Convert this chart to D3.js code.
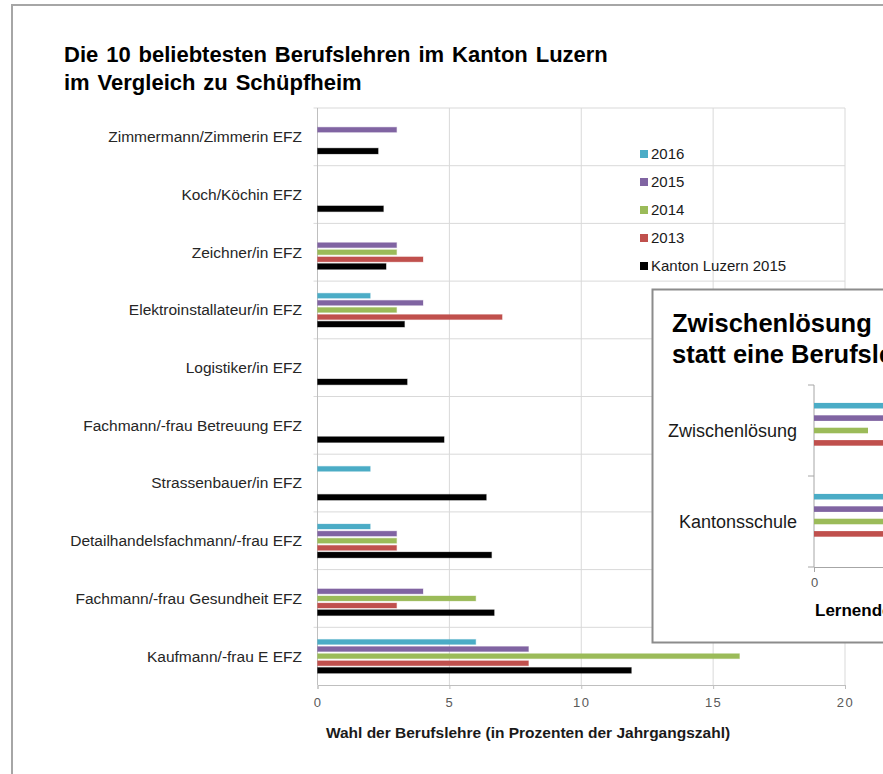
<!DOCTYPE html>
<html>
<head>
<meta charset="utf-8">
<script src="https://cdn.jsdelivr.net/npm/d3@7"></script>
<style>
  body { margin: 0; background: #fff; }
  svg { display: block; font-family: "Liberation Sans", Arial, sans-serif; }
</style>
</head>
<body>
<svg id="chart" width="883" height="774"></svg>
<script>
// categories, top to bottom
var berufe = [
  "Zimmermann/Zimmerin EFZ",
  "Koch/Köchin EFZ",
  "Zeichner/in EFZ",
  "Elektroinstallateur/in EFZ",
  "Logistiker/in EFZ",
  "Fachmann/-frau Betreuung EFZ",
  "Strassenbauer/in EFZ",
  "Detailhandelsfachmann/-frau EFZ",
  "Fachmann/-frau Gesundheit EFZ",
  "Kaufmann/-frau E EFZ"
];
var serien = ["2016", "2015", "2014", "2013", "Kanton Luzern 2015"];
var farben = ["#4bacc6", "#8064a2", "#9bbb59", "#c0504d", "#000000"];

// values in % (null = no bar)
var werte2016 = [null, null, null, 2, null, null, 2, 2, null, 6];
var werte2015 = [3, null, 3, 4, null, null, null, 3, 4, 8];
var werte2014 = [null, null, 3, 3, null, null, null, 3, 6, 16];
var werte2013 = [null, null, 4, 7, null, null, null, 3, 3, 8];
var werteKanton = [2.3, 2.5, 2.6, 3.3, 3.4, 4.8, 6.4, 6.6, 6.7, 11.9];
var xTicks = [0, 5, 10, 15, 20];

// inset chart (cut off at the right edge)
var insetKat = ["Zwischenlösung", "Kantonsschule"];
var inset2016 = [5, 6];
var inset2015 = [4.5, 5.5];
var inset2014 = [1.8, 4.5];
var inset2013 = [6, 7];
var insetTicks = [0];

var svg = d3.select("#chart");

// outer frame
svg.append("rect")
   .attr("x", 12).attr("y", 5)
   .attr("width", 900).attr("height", 800)
   .attr("fill", "#fff")
   .attr("stroke", "#a6a6a6")
   .attr("stroke-width", 2);

// title
var title = svg.append("text")
   .attr("x", 64).attr("y", 62)
   .attr("font-size", "22px")
   .attr("font-weight", "bold")
   .attr("fill", "#000");
title.append("tspan").attr("x", 64).attr("y", 62).attr("word-spacing", "1.8px")
     .text("Die 10 beliebtesten Berufslehren im Kanton Luzern");
title.append("tspan").attr("x", 64).attr("y", 90).attr("word-spacing", "1.8px")
     .text("im Vergleich zu Schüpfheim");

function drawMain(){
  var left = 317.5, right = 845, top = 108, bottom = 685;

  var x = d3.scaleLinear().domain([0, 20]).range([left, right]);
  var y = d3.scaleBand().domain(berufe).range([top, bottom]);
  var ys = d3.scaleBand().domain(serien)
    .range([0, y.bandwidth()])
    .paddingInner(0.3).paddingOuter(1.71);

  var g = svg.append("g");

  // vertical gridlines
  g.selectAll(".vgrid")
   .data(xTicks.slice(1))
   .enter().append("line")
   .attr("x1", d => x(d)).attr("x2", d => x(d))
   .attr("y1", top).attr("y2", bottom)
   .attr("stroke", "#d9d9d9");

  // horizontal separators between categories (+ top border)
  var seps = berufe.map(b => y(b));
  g.selectAll(".hgrid")
   .data(seps)
   .enter().append("line")
   .attr("x1", left - 4).attr("x2", right)
   .attr("y1", d => d).attr("y2", d => d)
   .attr("stroke", "#d9d9d9");

  // y axis line
  g.append("line")
   .attr("x1", left).attr("x2", left)
   .attr("y1", top).attr("y2", bottom)
   .attr("stroke", "#bfbfbf");

  // x axis
  var xAxis = g.append("g")
   .attr("transform", "translate(0," + bottom + ")")
   .call(d3.axisBottom(x).tickValues(xTicks).tickSize(4).tickPadding(9));
  xAxis.select(".domain").attr("stroke", "#bfbfbf");
  xAxis.selectAll(".tick line").attr("stroke", "#bfbfbf");
  xAxis.selectAll(".tick text")
       .attr("font-size", "13px")
       .attr("letter-spacing", "1.5px")
       .attr("font-family", "Liberation Sans, Arial, sans-serif")
       .attr("fill", "#595959");

  // category labels
  g.selectAll(".kat")
   .data(berufe)
   .enter().append("text")
   .attr("x", 302)
   .attr("y", d => y(d) + y.bandwidth() / 2)
   .attr("dy", "0.35em")
   .attr("text-anchor", "end")
   .attr("font-size", "15.5px")
   .attr("fill", "#262626")
   .text(d => d);

  // bars
  var reihen = [werte2016, werte2015, werte2014, werte2013, werteKanton];
  reihen.forEach(function(werte, i){
    var s = serien[i];
    var data = berufe.map((b, j) => ({ beruf: b, wert: werte[j] }))
                     .filter(d => d.wert != null);
    g.selectAll(".bar" + i)
     .data(data)
     .enter().append("rect")
     .attr("x", x(0))
     .attr("y", d => y(d.beruf) + ys(s) - (i == 4 ? 0.4 : 0))
     .attr("width", d => x(d.wert) - x(0))
     .attr("height", ys.bandwidth() + (i == 4 ? 0.8 : 0))
     .attr("fill", farben[i])
     .attr("stroke", farben[i])
     .attr("stroke-opacity", 0.3)
     .attr("stroke-width", 1);
  });

  // axis title
  svg.append("text")
     .attr("x", 528).attr("y", 738)
     .attr("text-anchor", "middle")
     .attr("font-size", "15.5px")
     .attr("font-weight", "bold")
     .attr("fill", "#1a1a1a")
     .text("Wahl der Berufslehre (in Prozenten der Jahrgangszahl)");

  // legend
  var leg = svg.append("g").attr("transform", "translate(640,154)");
  var item = leg.selectAll(".leg")
    .data(serien)
    .enter().append("g")
    .attr("transform", (d, i) => "translate(0," + (i * 28) + ")");
  item.append("rect")
      .attr("x", 0).attr("y", -4)
      .attr("width", 8).attr("height", 8)
      .attr("fill", (d, i) => farben[i]);
  item.append("text")
      .attr("x", 11).attr("y", 0)
      .attr("dy", "0.35em")
      .attr("font-size", "15px")
      .attr("fill", "#1a1a1a")
      .text(d => d);
}

function drawInset(){
  var box = svg.append("g");
  box.append("rect")
     .attr("x", 652.5).attr("y", 289.5)
     .attr("width", 400).attr("height", 353)
     .attr("fill", "#fff")
     .attr("stroke", "#8c8c8c")
     .attr("stroke-width", 2);

  var t = box.append("text")
     .attr("font-size", "25.5px")
     .attr("font-weight", "bold")
     .attr("fill", "#000");
  t.append("tspan").attr("x", 672).attr("y", 332).text("Zwischenlösung");
  t.append("tspan").attr("x", 672).attr("y", 363).text("statt eine Berufslehre");

  var left = 814, top = 385, bottom = 567;
  var x = d3.scaleLinear().domain([0, 10]).range([left, left + 300]);
  var y = d3.scaleBand().domain(insetKat).range([top, bottom]);
  var ys = d3.scaleBand().domain(serien)
    .range([0, y.bandwidth()])
    .paddingInner(0.55).paddingOuter(1.445);

  // y axis with ticks on the left
  box.append("line")
     .attr("x1", left).attr("x2", left)
     .attr("y1", top).attr("y2", bottom)
     .attr("stroke", "#a6a6a6");
  box.selectAll(".itick")
     .data([top, top + y.bandwidth(), bottom])
     .enter().append("line")
     .attr("x1", left - 6).attr("x2", left)
     .attr("y1", d => d).attr("y2", d => d)
     .attr("stroke", "#a6a6a6");

  // x axis
  var xAxis = box.append("g")
     .attr("transform", "translate(0," + bottom + ")")
     .call(d3.axisBottom(x).tickValues(insetTicks).tickSize(5).tickPadding(6).tickSizeOuter(0));
  xAxis.select(".domain").attr("stroke", "#a6a6a6");
  xAxis.selectAll(".tick line").attr("stroke", "#a6a6a6");
  xAxis.selectAll(".tick text")
       .attr("font-size", "13px")
       .attr("font-family", "Liberation Sans, Arial, sans-serif")
       .attr("fill", "#595959");

  box.selectAll(".ikat")
     .data(insetKat)
     .enter().append("text")
     .attr("x", 797)
     .attr("y", d => y(d) + y.bandwidth() / 2)
     .attr("dy", "0.35em")
     .attr("text-anchor", "end")
     .attr("font-size", "18px")
     .attr("fill", "#1a1a1a")
     .text(d => d);

  var reihen = [inset2016, inset2015, inset2014, inset2013];
  reihen.forEach(function(werte, i){
    var s = serien[i];
    box.selectAll(".ibar" + i)
       .data(insetKat.map((k, j) => ({ kat: k, wert: werte[j] })))
       .enter().append("rect")
       .attr("x", x(0))
       .attr("y", d => y(d.kat) + ys(s))
       .attr("width", d => x(d.wert) - x(0))
       .attr("height", ys.bandwidth())
       .attr("fill", farben[i]);
  });

  box.append("text")
     .attr("x", 815).attr("y", 616)
     .attr("font-size", "17px")
     .attr("font-weight", "bold")
     .attr("fill", "#000")
     .text("Lernende");
}

drawMain();
drawInset();
</script>
</body>
</html>
